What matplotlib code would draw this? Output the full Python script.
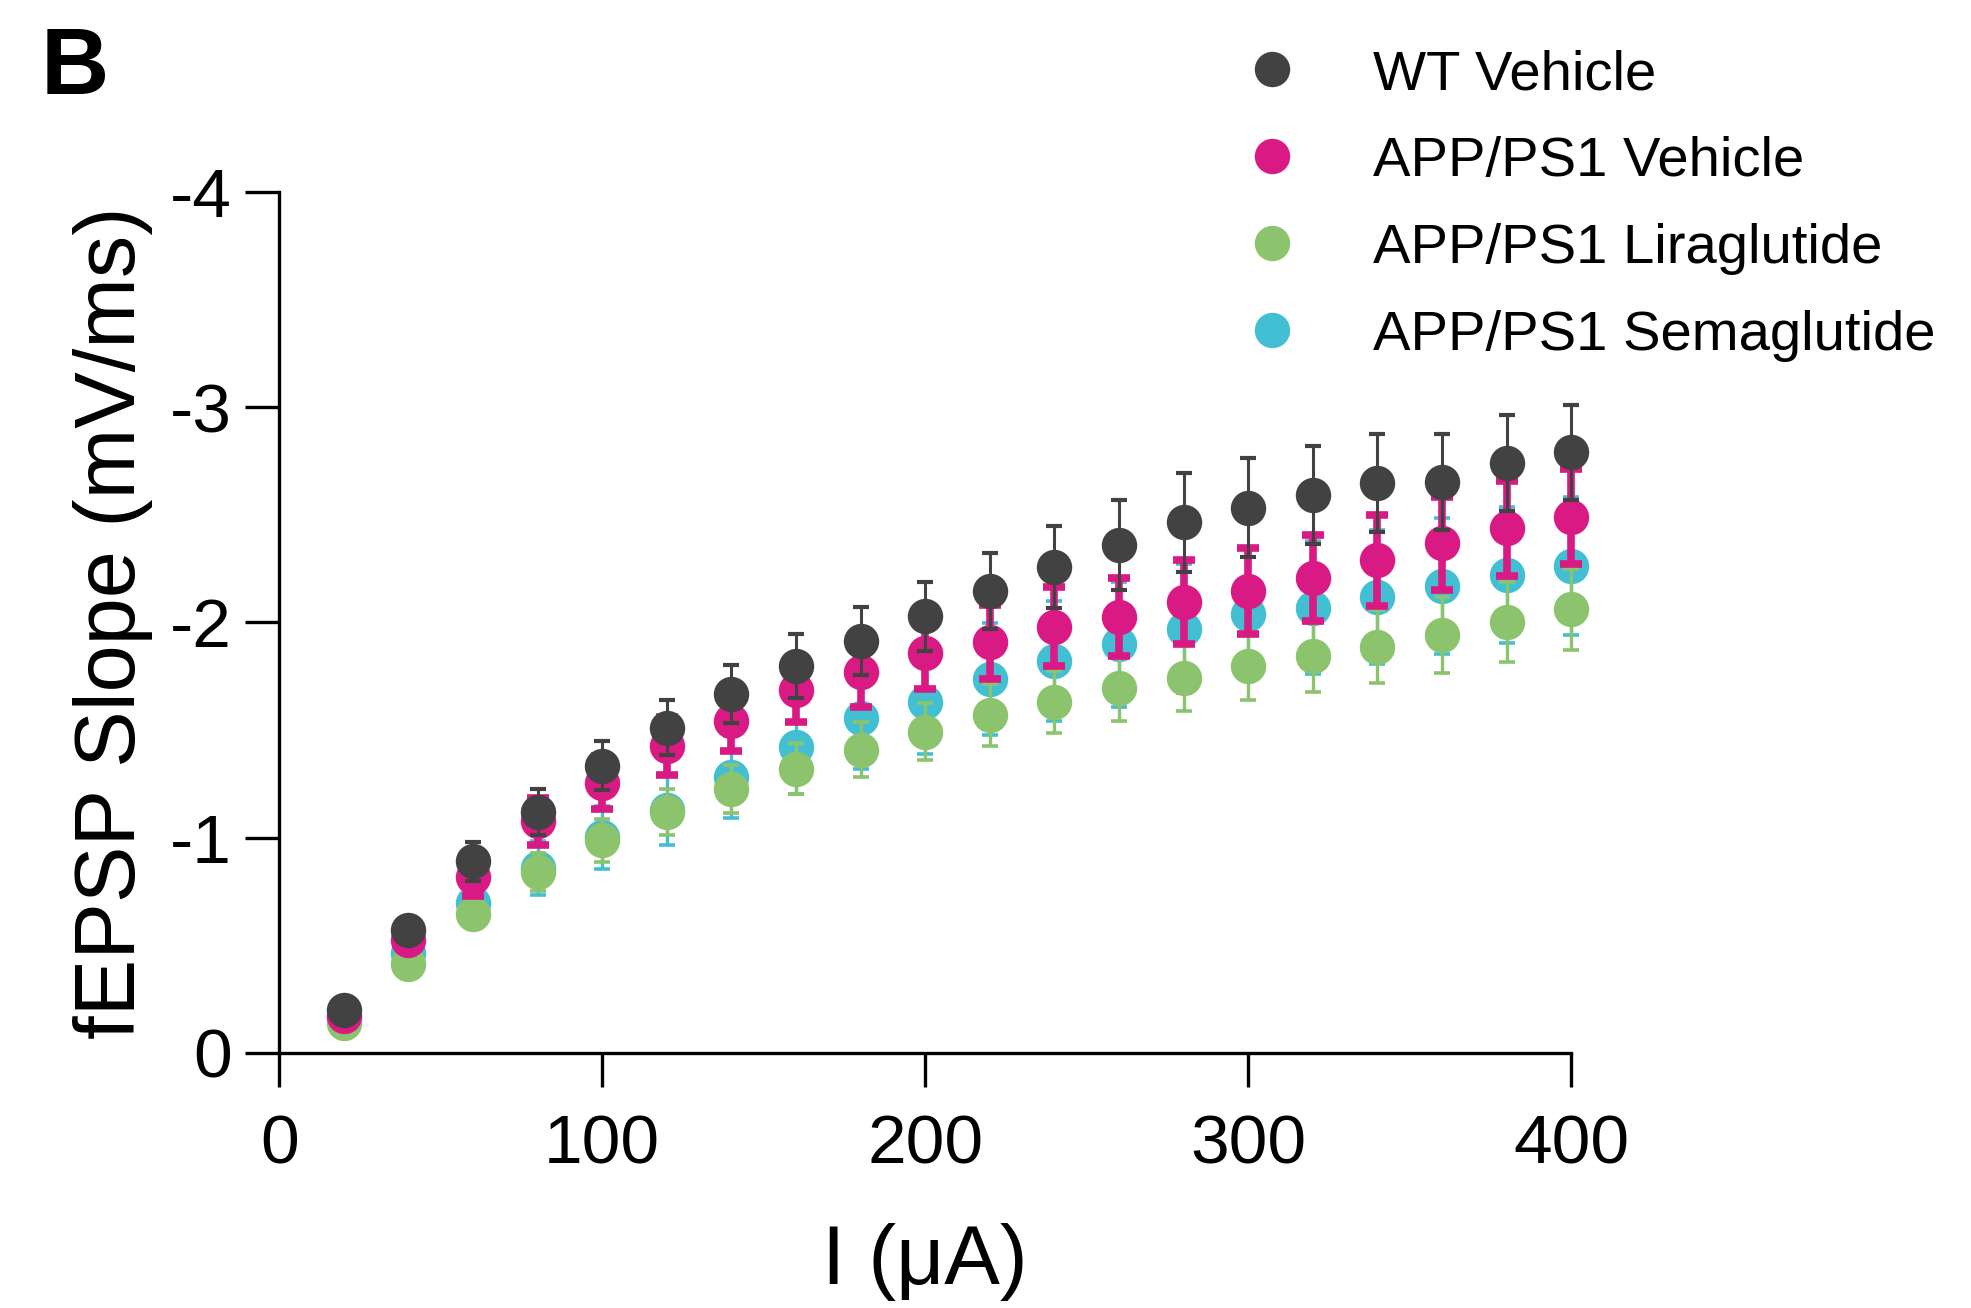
import matplotlib
matplotlib.use("Agg")
import matplotlib.pyplot as plt

# stimulus current (uA)
current_ua = [20, 40, 60, 80, 100, 120, 140, 160, 180, 200,
              220, 240, 260, 280, 300, 320, 340, 360, 380, 400]

# fEPSP slope means (mV/ms) and SEM
wt_vehicle = [-0.20, -0.57, -0.89, -1.12, -1.335, -1.51, -1.667, -1.797, -1.913, -2.028,
              -2.146, -2.257, -2.36, -2.464, -2.533, -2.591, -2.647, -2.653, -2.74, -2.789]
wt_vehicle_sem = [0.03, 0.05, 0.09, 0.107, 0.112, 0.127, 0.136, 0.147, 0.157, 0.16,
                  0.178, 0.19, 0.21, 0.228, 0.23, 0.227, 0.228, 0.222, 0.223, 0.22]

app_vehicle = [-0.17, -0.526, -0.817, -1.076, -1.256, -1.425, -1.544, -1.684, -1.769, -1.859,
               -1.91, -1.98, -2.025, -2.094, -2.146, -2.208, -2.288, -2.367, -2.437, -2.49]
app_vehicle_sem = [0.02, 0.05, 0.09, 0.11, 0.125, 0.136, 0.14, 0.146, 0.161, 0.167,
                   0.172, 0.183, 0.18, 0.194, 0.2, 0.2, 0.21, 0.217, 0.22, 0.22]

app_lira = [-0.138, -0.414, -0.647, -0.84, -0.988, -1.12, -1.226, -1.321, -1.409, -1.492,
            -1.569, -1.631, -1.693, -1.743, -1.797, -1.843, -1.887, -1.943, -2.001, -2.06]
app_lira_sem = [0.02, 0.04, 0.06, 0.09, 0.1, 0.108, 0.11, 0.117, 0.127, 0.132,
                0.144, 0.144, 0.149, 0.156, 0.16, 0.165, 0.17, 0.177, 0.186, 0.19]

app_sema = [-0.16, -0.464, -0.696, -0.859, -1.002, -1.13, -1.28, -1.42, -1.557, -1.63,
            -1.738, -1.82, -1.898, -1.97, -2.04, -2.068, -2.118, -2.169, -2.219, -2.262]
app_sema_sem = [0.03, 0.06, 0.08, 0.124, 0.147, 0.165, 0.19, 0.215, 0.237, 0.24,
                 0.26, 0.28, 0.29, 0.3, 0.3, 0.31, 0.31, 0.315, 0.317, 0.32]

labels = ["WT Vehicle", "APP/PS1 Vehicle", "APP/PS1 Liraglutide", "APP/PS1 Semaglutide"]
colors = {"wt": "#424242", "veh": "#DA1A84", "lira": "#8BC46C", "sema": "#42BFD3"}

plt.rcParams["font.family"] = ["Liberation Sans", "DejaVu Sans"]
plt.rcParams["axes.unicode_minus"] = False

fig = plt.figure(figsize=(19.71, 13.08), dpi=100)
ax = fig.add_axes([0.1417, 0.1950, 0.6555, 0.6584])

# drawing order: semaglutide at the bottom, WT on top
# (key, means, sem, error line width, cap half-length, cap thickness, zorder)
series = [
    ("sema", app_sema, app_sema_sem, 2.4, 5.5, 2.6, 2),
    ("lira", app_lira, app_lira_sem, 2.4, 5.5, 2.6, 3),
    ("veh", app_vehicle, app_vehicle_sem, 5.5, 8, 5.5, 4),
    ("wt", wt_vehicle, wt_vehicle_sem, 2.2, 6.1, 3.0, 5),
]
handles = {}
for key, ys, err, elw, cap, capt, z in series:
    c = ax.errorbar(current_ua, ys, yerr=err, fmt="o", ms=25.5,
                    color=colors[key], ecolor=colors[key], elinewidth=elw,
                    capsize=cap, capthick=capt, zorder=z)
    c[0].set_markeredgewidth(0)
    for art in c.get_children():
        art.set_clip_on(False)
    handles[key] = c[0]

ax.set_xlim(0, 400)
ax.set_ylim(0, -4)
ax.set_xticks([0, 100, 200, 300, 400])
ax.set_yticks([0, -1, -2, -3, -4])
ax.spines["top"].set_visible(False)
ax.spines["right"].set_visible(False)
for s in ("left", "bottom"):
    ax.spines[s].set_linewidth(2.4)
ax.tick_params(axis="both", length=24.5, width=2.4, labelsize=50)
ax.tick_params(axis="x", pad=19)
ax.tick_params(axis="y", pad=9.5)

ax.set_xlabel("I (μA)", fontsize=60)
ax.xaxis.set_label_coords(0.5, -0.197)
ax.set_ylabel("fEPSP Slope (mV/ms)", fontsize=61)
ax.yaxis.set_label_coords(-0.098, 0.5)

fig.text(0.0205, 0.928, "B", fontsize=68, fontweight="bold", ha="left", va="baseline")

leg = fig.legend([handles["wt"], handles["veh"], handles["lira"], handles["sema"]], labels,
                 loc="upper left", bbox_to_anchor=(0.631, 0.9625), fontsize=40.5,
                 frameon=False, handlelength=1.0, handletextpad=1.3,
                 labelspacing=0.62, borderpad=0, borderaxespad=0)

fig.savefig("out.png", dpi=100)
